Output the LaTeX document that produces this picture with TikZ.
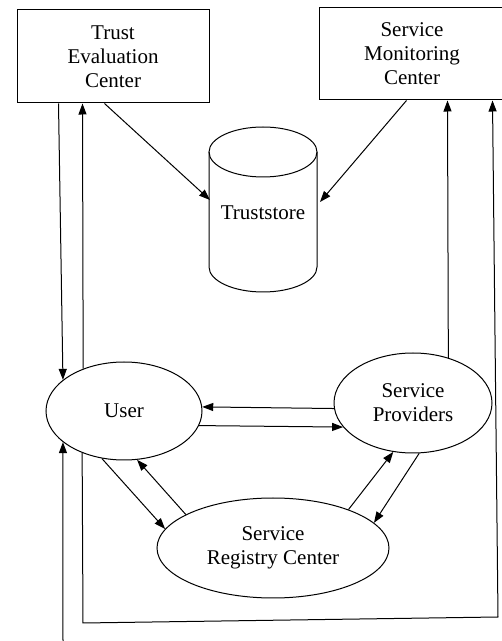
\documentclass[tikz,border=0pt]{standalone}
\usepackage{fontspec}
\setmainfont{Liberation Serif}
\usetikzlibrary{shapes.geometric,arrows.meta,calc}
\begin{document}
\begin{tikzpicture}[x=1pt,y=1pt,
  every node/.style={font=\fontsize{21}{24}\selectfont, align=center},
  boxnode/.style={draw, line width=1pt, rectangle, inner sep=0pt},
  ellnode/.style={draw, line width=1pt, ellipse, inner sep=0pt},
  conn/.style={line width=1pt, -{Triangle[length=11pt,width=8pt]}},
  plain/.style={line width=1pt}]
\useasboundingbox (0,0) rectangle (502,641);
% boxes
\node[boxnode, minimum width=192pt, minimum height=93pt] (tec) at (113,584.5) {Trust\\Evaluation\\Center};
\node[boxnode, minimum width=186pt, minimum height=92pt, text width=182pt] (smc) at (412,587) {Service\\Monitoring\\Center};
% ellipses
\node[ellnode, minimum width=156pt, minimum height=98pt] (user) at (124,230) {User};
\node[ellnode, minimum width=158pt, minimum height=100pt] (sp) at (413,238) {Service\\Providers};
\node[ellnode, minimum width=232pt, minimum height=100pt] (src) at (273,93) {Service\\Registry Center};
% truststore cylinder
\node (ts) at (263,428) {Truststore};
\draw[plain] ($(ts)+(0,61)$) ellipse [x radius=54pt, y radius=25pt];
\draw[plain] ($(ts)+(-54,61)$) -- ($(ts)+(-54,-54)$)
  arc[start angle=180, end angle=360, x radius=54pt, y radius=25pt]
  -- ($(ts)+(54,61)$);
% connectors to truststore
\draw[conn] ($(tec.south west)+(88,0)$) -- ($(ts)+(-53,13)$);
\draw[conn] ($(smc.south west)+(88,0)$) -- ($(ts)+(57,11)$);
% TEC <-> User
\draw[conn] ($(tec.south west)+(42,0)$) -- (user.153);
\draw[conn] (user.134) -- ($(tec.south west)+(66,0)$);
% SP -> SMC
\draw[conn] (sp.52) -- ($(smc.south west)+(129,0)$);
% User bottom loop -> SMC
\coordinate (c1) at (83,18);
\coordinate (c2) at (498,24);
\draw[conn] (user.225) -- (c1) -- (c2) -- ($(smc.south west)+(174,0)$);
% free arrow from bottom
\coordinate (bot) at (63,0);
\draw[conn] (bot) -- (user.207);
% User <-> SP
\draw[conn] (sp.184) -- (user.3);
\draw[conn] (user.349) -- (sp.199);
% User <-> SRC
\draw[conn] (user.245) -- (src.170);
\draw[conn] (src.159) -- (user.285);
% SRC <-> SP
\draw[conn] (src.27) -- (sp.248);
\draw[conn] (sp.277) -- (src.14);
\end{tikzpicture}
\end{document}
